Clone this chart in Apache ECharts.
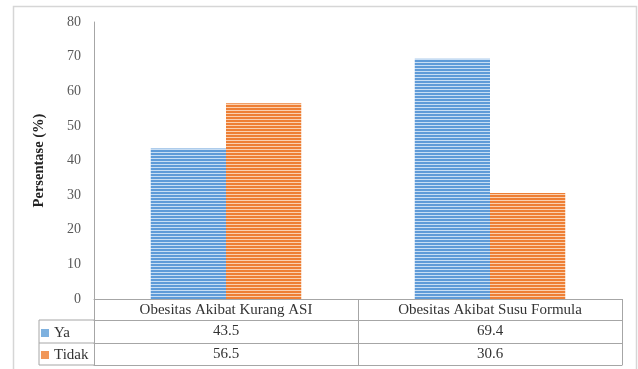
<!DOCTYPE html>
<html>
<head>
<meta charset="utf-8">
<script src="https://cdn.jsdelivr.net/npm/echarts@6/dist/echarts.min.js"></script>
<style>
html,body{margin:0;padding:0;background:#fff;}
#c{width:638px;height:369px;}
</style>
</head>
<body>
<div id="c"></div>
<script>
const categories = ['Obesitas Akibat Kurang ASI', 'Obesitas Akibat Susu Formula'];
const seriesNames = ['Ya', 'Tidak'];
const yaValues = [43.5, 69.4];
const tidakValues = [56.5, 30.6];
const yAxisName = 'Persentase (%)';

const FONT = '"Liberation Serif", "Times New Roman", serif';
const GRID = '#a6a6a6';

function stripe(base, light) {
  const cv = document.createElement('canvas');
  cv.width = 4; cv.height = 3;
  const ctx = cv.getContext('2d');
  ctx.fillStyle = base; ctx.fillRect(0, 0, 4, 3);
  ctx.fillStyle = light; ctx.fillRect(0, 2, 4, 1);
  return cv;
}
const blueFill = { image: stripe('#5f9bd8', '#c8def4'), repeat: 'repeat' };
const orangeFill = { image: stripe('#ee7f35', '#fad0b0'), repeat: 'repeat' };

function tableAxis(data, offset, tickLen, showLabel) {
  return {
    type: 'category', data: data, position: 'bottom', offset: offset, gridIndex: 0,
    axisLine: { show: true, lineStyle: { color: GRID, width: 1 } },
    axisTick: { show: tickLen > 0, length: tickLen, alignWithLabel: false, interval: 0, lineStyle: { color: GRID } },
    axisLabel: { show: showLabel, interval: 0, margin: 4, fontFamily: FONT, fontSize: 15, color: '#333' },
    splitLine: { show: false }
  };
}

const chart = echarts.init(document.getElementById('c'), null, { renderer: 'canvas' });
chart.setOption({
  animation: false,
  backgroundColor: '#fff',
  textStyle: { fontFamily: FONT },
  grid: { left: 94, right: 16, top: 22, bottom: 70, containLabel: false },
  legend: {
    orient: 'vertical', left: 41, top: 325, padding: 0, itemWidth: 8, itemHeight: 8, itemGap: 6,
    icon: 'rect', selectedMode: false,
    formatter: '{t|{name}}',
    textStyle: {
      fontFamily: FONT, fontSize: 15, lineHeight: 16, color: '#333',
      rich: { t: { fontFamily: FONT, fontSize: 15, lineHeight: 16, color: '#333' } }
    },
    data: [
      { name: seriesNames[0], itemStyle: { color: '#7eb1df' } },
      { name: seriesNames[1], itemStyle: { color: '#f19759' } }
    ]
  },
  xAxis: [
    tableAxis(categories, 0, 21, true),
    tableAxis(yaValues.map(v => v.toFixed(1)), 21, 23, true),
    tableAxis(tidakValues.map(v => v.toFixed(1)), 44, 22, true),
    tableAxis(categories, 66, 0, false)
  ],
  yAxis: {
    type: 'value', min: 0, max: 80, interval: 10,
    name: yAxisName, nameLocation: 'middle', nameGap: 47, nameRotate: 90,
    nameTextStyle: { fontFamily: FONT, fontSize: 14.5, fontWeight: 'bold', color: '#222' },
    axisLine: { show: true, lineStyle: { color: GRID } },
    axisTick: { show: false },
    splitLine: { show: false },
    axisLabel: { margin: 13, fontFamily: FONT, fontSize: 14, color: '#595959' }
  },
  series: [
    { name: seriesNames[0], type: 'bar', xAxisIndex: 0, data: yaValues, barGap: '0%', barCategoryGap: '43%',
      itemStyle: { color: blueFill } },
    { name: seriesNames[1], type: 'bar', xAxisIndex: 0, data: tidakValues, barGap: '0%', barCategoryGap: '43%',
      itemStyle: { color: orangeFill } }
  ],
  graphic: [
    { type: 'rect', shape: { x: 13.5, y: 6.5, width: 623, height: 400 }, style: { fill: 'none', stroke: '#d6d6d6', lineWidth: 1.5 }, silent: true },
    { type: 'line', shape: { x1: 39, y1: 320, x2: 94, y2: 320 }, style: { stroke: GRID, lineWidth: 1 } },
    { type: 'line', shape: { x1: 39, y1: 343, x2: 94, y2: 343 }, style: { stroke: GRID, lineWidth: 1 } },
    { type: 'line', shape: { x1: 39, y1: 365, x2: 94, y2: 365 }, style: { stroke: GRID, lineWidth: 1 } },
    { type: 'line', shape: { x1: 39, y1: 320, x2: 39, y2: 365 }, style: { stroke: GRID, lineWidth: 1 } }
  ]
});
</script>
</body>
</html>
